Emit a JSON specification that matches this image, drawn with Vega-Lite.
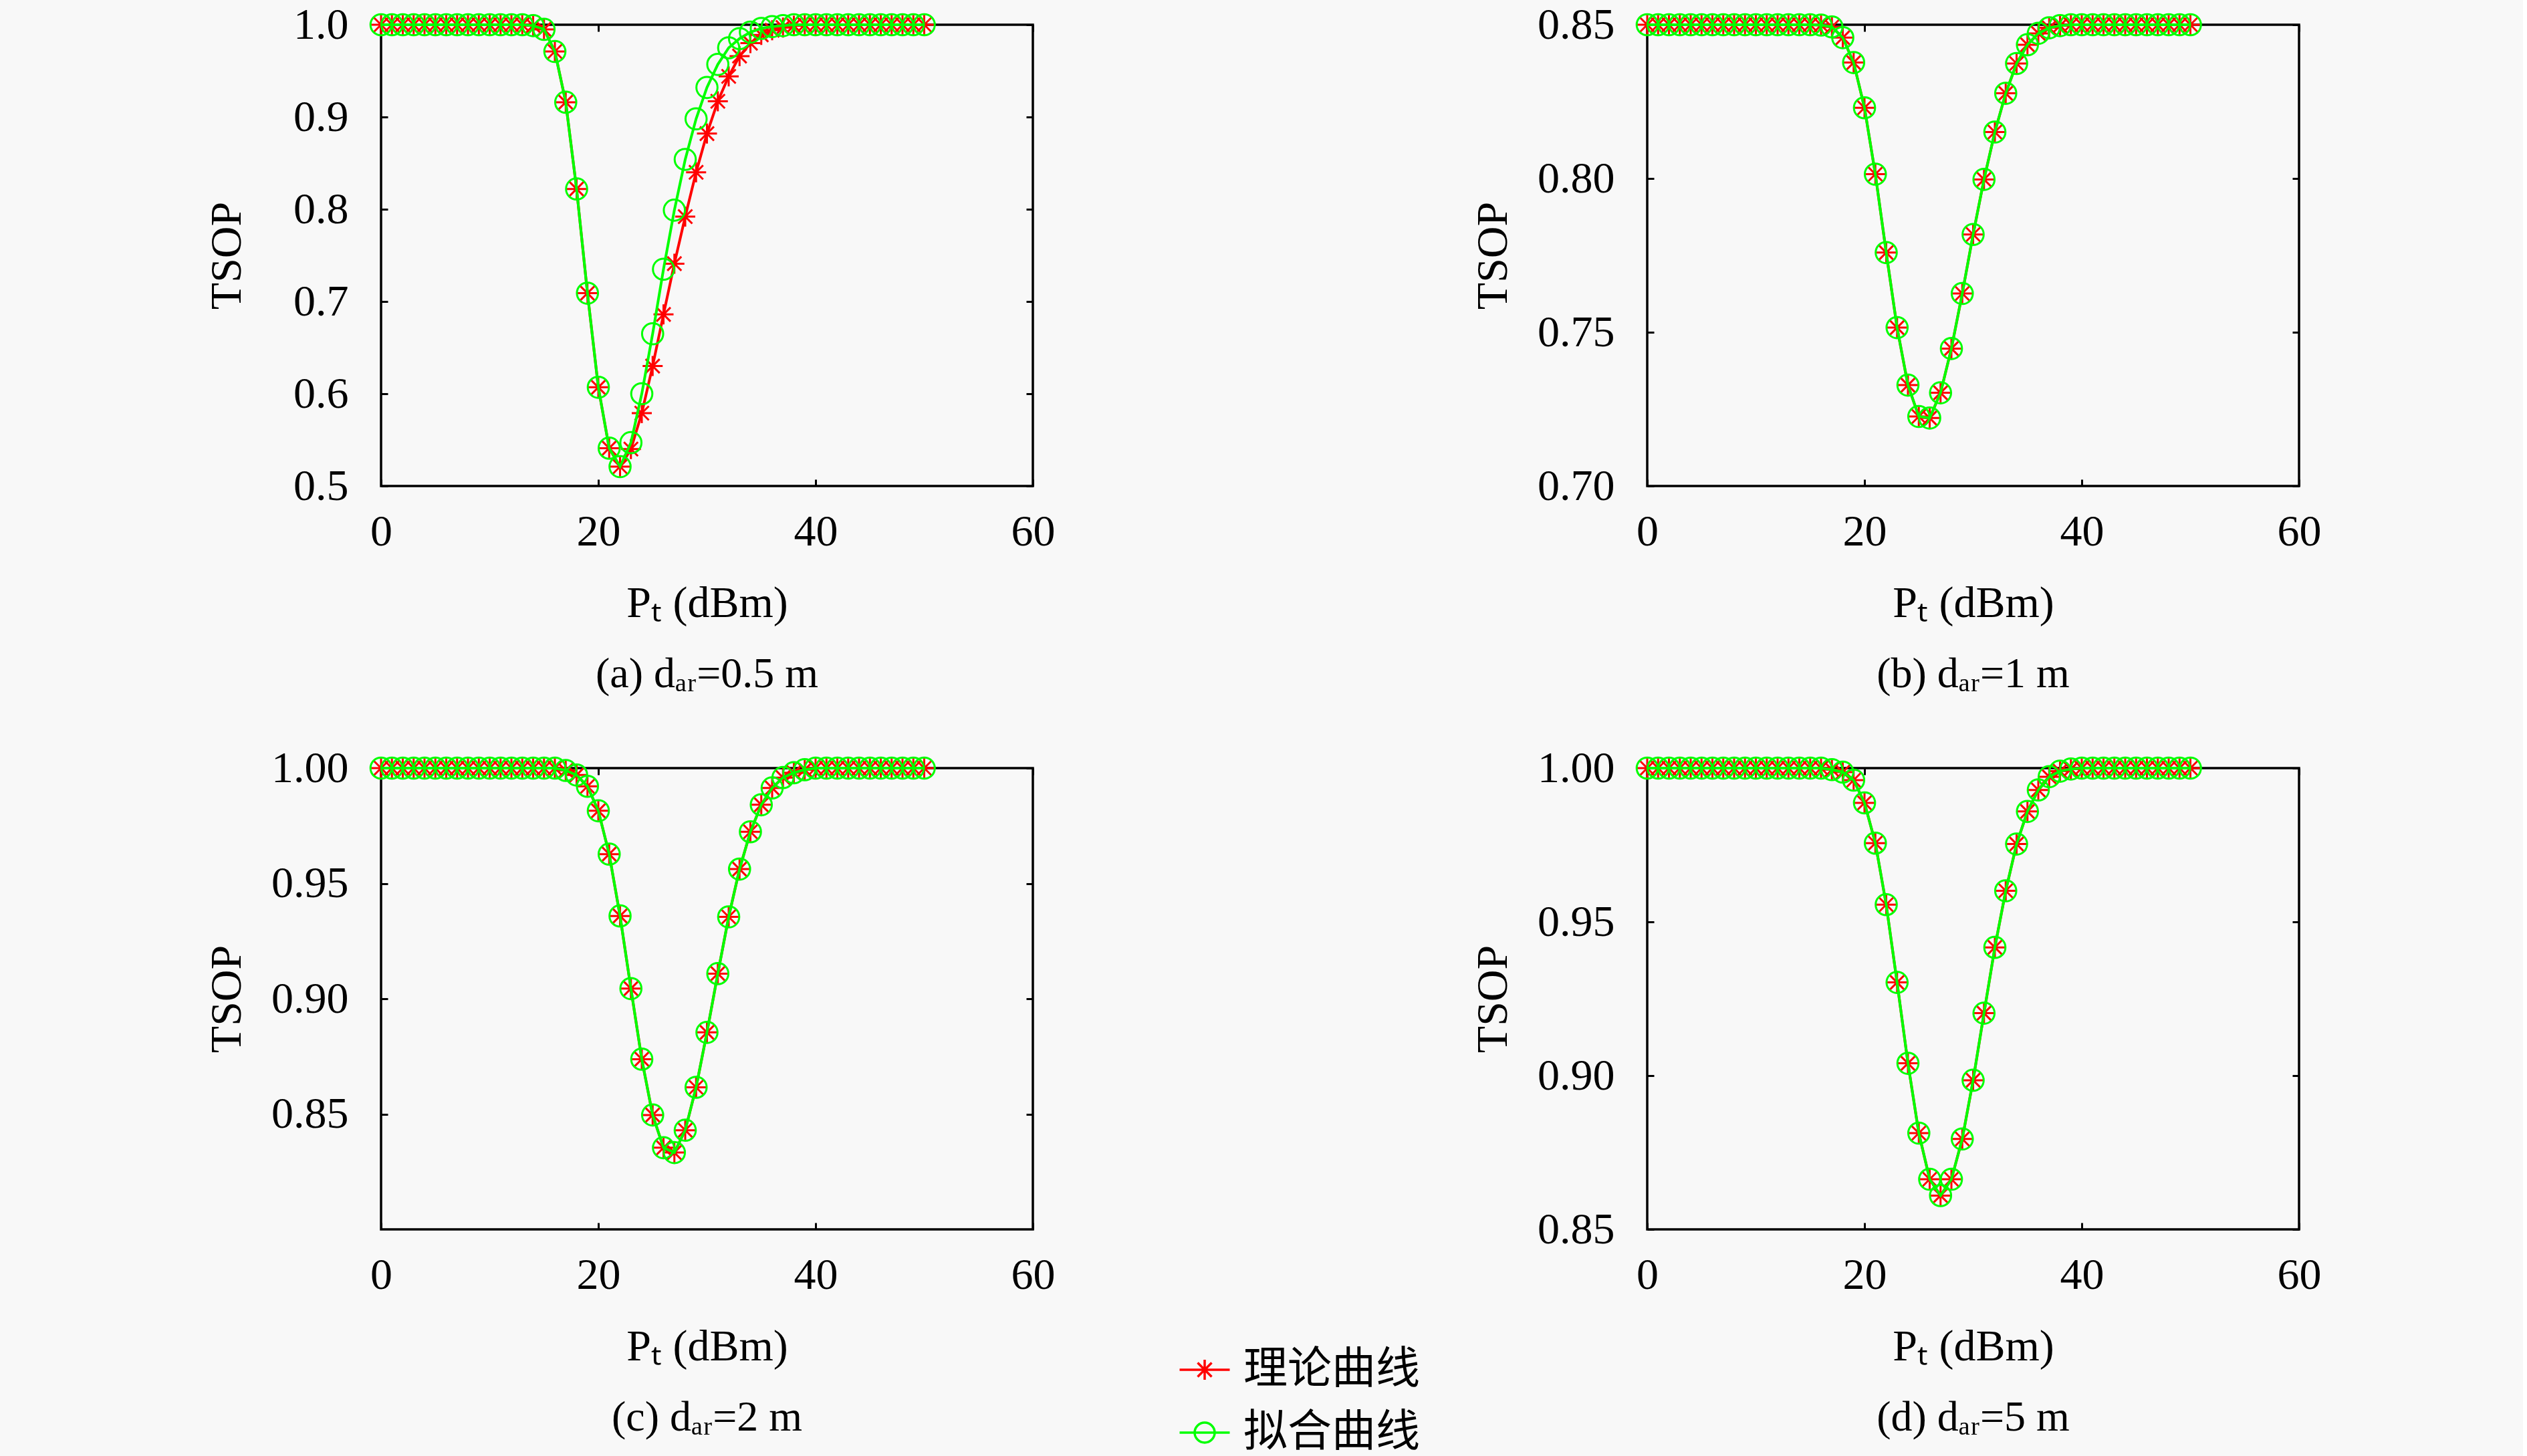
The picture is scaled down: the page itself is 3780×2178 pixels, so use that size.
{
  "$schema": "https://vega.github.io/schema/vega-lite/v6.json",
  "background": "#f8f8f8",
  "padding": {"left": 304, "top": 2, "right": 300, "bottom": 20},
  "config": {
    "view": {"stroke": "black", "strokeWidth": 3.5},
    "axis": {
      "domain": false, "grid": false, "labelFlush": false,
      "tickColor": "black", "tickSize": -10, "tickWidth": 3,
      "labelFont": "Liberation Serif", "labelFontSize": 66, "labelColor": "black",
      "titleFont": "Liberation Serif", "titleFontSize": 66, "titleFontWeight": "normal", "titleColor": "black"
    },
    "axisBottom": {"labelPadding": 46},
    "axisLeft": {"labelPadding": 59},
    "title": {"font": "Liberation Serif", "fontSize": 64, "fontWeight": "normal", "color": "black"}
  },
  "data": {"values": [
    {"p":"a","x":0,"t":1,"f":1},{"p":"a","x":1,"t":1,"f":1},{"p":"a","x":2,"t":1,"f":1},{"p":"a","x":3,"t":1,"f":1},
    {"p":"a","x":4,"t":1,"f":1},{"p":"a","x":5,"t":1,"f":1},{"p":"a","x":6,"t":1,"f":1},{"p":"a","x":7,"t":1,"f":1},
    {"p":"a","x":8,"t":1,"f":1},{"p":"a","x":9,"t":1,"f":1},{"p":"a","x":10,"t":1,"f":1},{"p":"a","x":11,"t":1,"f":1},
    {"p":"a","x":12,"t":1,"f":1},{"p":"a","x":13,"t":1,"f":1},{"p":"a","x":14,"t":0.999,"f":0.999},{"p":"a","x":15,"t":0.995,"f":0.995},
    {"p":"a","x":16,"t":0.971,"f":0.971},{"p":"a","x":17,"t":0.916,"f":0.916},{"p":"a","x":18,"t":0.822,"f":0.822},{"p":"a","x":19,"t":0.709,"f":0.709},
    {"p":"a","x":20,"t":0.607,"f":0.607},{"p":"a","x":21,"t":0.541,"f":0.541},{"p":"a","x":22,"t":0.521,"f":0.521},{"p":"a","x":23,"t":0.540,"f":0.547},
    {"p":"a","x":24,"t":0.579,"f":0.600},{"p":"a","x":25,"t":0.630,"f":0.665},{"p":"a","x":26,"t":0.686,"f":0.735},{"p":"a","x":27,"t":0.741,"f":0.799},
    {"p":"a","x":28,"t":0.792,"f":0.854},{"p":"a","x":29,"t":0.840,"f":0.898},{"p":"a","x":30,"t":0.882,"f":0.932},{"p":"a","x":31,"t":0.917,"f":0.957},
    {"p":"a","x":32,"t":0.944,"f":0.975},{"p":"a","x":33,"t":0.966,"f":0.985},{"p":"a","x":34,"t":0.980,"f":0.992},{"p":"a","x":35,"t":0.989,"f":0.996},
    {"p":"a","x":36,"t":0.994,"f":0.998},{"p":"a","x":37,"t":0.997,"f":0.999},{"p":"a","x":38,"t":0.999,"f":1},{"p":"a","x":39,"t":1,"f":1},
    {"p":"a","x":40,"t":1,"f":1},{"p":"a","x":41,"t":1,"f":1},{"p":"a","x":42,"t":1,"f":1},{"p":"a","x":43,"t":1,"f":1},
    {"p":"a","x":44,"t":1,"f":1},{"p":"a","x":45,"t":1,"f":1},{"p":"a","x":46,"t":1,"f":1},{"p":"a","x":47,"t":1,"f":1},
    {"p":"a","x":48,"t":1,"f":1},{"p":"a","x":49,"t":1,"f":1},{"p":"a","x":50,"t":1,"f":1},

    {"p":"b","x":0,"t":0.85,"f":0.85},{"p":"b","x":1,"t":0.85,"f":0.85},{"p":"b","x":2,"t":0.85,"f":0.85},{"p":"b","x":3,"t":0.85,"f":0.85},
    {"p":"b","x":4,"t":0.85,"f":0.85},{"p":"b","x":5,"t":0.85,"f":0.85},{"p":"b","x":6,"t":0.85,"f":0.85},{"p":"b","x":7,"t":0.85,"f":0.85},
    {"p":"b","x":8,"t":0.85,"f":0.85},{"p":"b","x":9,"t":0.85,"f":0.85},{"p":"b","x":10,"t":0.85,"f":0.85},{"p":"b","x":11,"t":0.85,"f":0.85},
    {"p":"b","x":12,"t":0.85,"f":0.85},{"p":"b","x":13,"t":0.85,"f":0.85},{"p":"b","x":14,"t":0.85,"f":0.85},{"p":"b","x":15,"t":0.85,"f":0.85},
    {"p":"b","x":16,"t":0.8499,"f":0.8499},{"p":"b","x":17,"t":0.8493,"f":0.8493},{"p":"b","x":18,"t":0.8458,"f":0.8458},{"p":"b","x":19,"t":0.8377,"f":0.8377},
    {"p":"b","x":20,"t":0.823,"f":0.823},{"p":"b","x":21,"t":0.8014,"f":0.8014},{"p":"b","x":22,"t":0.7759,"f":0.7759},{"p":"b","x":23,"t":0.7515,"f":0.7515},
    {"p":"b","x":24,"t":0.7328,"f":0.7328},{"p":"b","x":25,"t":0.7226,"f":0.7226},{"p":"b","x":26,"t":0.7221,"f":0.7221},{"p":"b","x":27,"t":0.7303,"f":0.7303},
    {"p":"b","x":28,"t":0.7447,"f":0.7447},{"p":"b","x":29,"t":0.7626,"f":0.7626},{"p":"b","x":30,"t":0.7818,"f":0.7818},{"p":"b","x":31,"t":0.7997,"f":0.7997},
    {"p":"b","x":32,"t":0.8151,"f":0.8151},{"p":"b","x":33,"t":0.8277,"f":0.8277},{"p":"b","x":34,"t":0.8374,"f":0.8374},{"p":"b","x":35,"t":0.8435,"f":0.8435},
    {"p":"b","x":36,"t":0.8472,"f":0.8472},{"p":"b","x":37,"t":0.849,"f":0.849},{"p":"b","x":38,"t":0.8497,"f":0.8497},{"p":"b","x":39,"t":0.85,"f":0.85},
    {"p":"b","x":40,"t":0.85,"f":0.85},{"p":"b","x":41,"t":0.85,"f":0.85},{"p":"b","x":42,"t":0.85,"f":0.85},{"p":"b","x":43,"t":0.85,"f":0.85},
    {"p":"b","x":44,"t":0.85,"f":0.85},{"p":"b","x":45,"t":0.85,"f":0.85},{"p":"b","x":46,"t":0.85,"f":0.85},{"p":"b","x":47,"t":0.85,"f":0.85},
    {"p":"b","x":48,"t":0.85,"f":0.85},{"p":"b","x":49,"t":0.85,"f":0.85},{"p":"b","x":50,"t":0.85,"f":0.85},

    {"p":"c","x":0,"t":1,"f":1},{"p":"c","x":1,"t":1,"f":1},{"p":"c","x":2,"t":1,"f":1},{"p":"c","x":3,"t":1,"f":1},
    {"p":"c","x":4,"t":1,"f":1},{"p":"c","x":5,"t":1,"f":1},{"p":"c","x":6,"t":1,"f":1},{"p":"c","x":7,"t":1,"f":1},
    {"p":"c","x":8,"t":1,"f":1},{"p":"c","x":9,"t":1,"f":1},{"p":"c","x":10,"t":1,"f":1},{"p":"c","x":11,"t":1,"f":1},
    {"p":"c","x":12,"t":1,"f":1},{"p":"c","x":13,"t":1,"f":1},{"p":"c","x":14,"t":1,"f":1},{"p":"c","x":15,"t":1,"f":1},
    {"p":"c","x":16,"t":1,"f":1},{"p":"c","x":17,"t":0.999,"f":0.999},{"p":"c","x":18,"t":0.997,"f":0.997},{"p":"c","x":19,"t":0.9921,"f":0.9921},
    {"p":"c","x":20,"t":0.9815,"f":0.9815},{"p":"c","x":21,"t":0.9627,"f":0.9627},{"p":"c","x":22,"t":0.9359,"f":0.9359},{"p":"c","x":23,"t":0.9044,"f":0.9044},
    {"p":"c","x":24,"t":0.8738,"f":0.8738},{"p":"c","x":25,"t":0.8496,"f":0.8496},{"p":"c","x":26,"t":0.8354,"f":0.8354},{"p":"c","x":27,"t":0.8333,"f":0.8333},
    {"p":"c","x":28,"t":0.843,"f":0.843},{"p":"c","x":29,"t":0.8616,"f":0.8616},{"p":"c","x":30,"t":0.8854,"f":0.8854},{"p":"c","x":31,"t":0.9109,"f":0.9109},
    {"p":"c","x":32,"t":0.9355,"f":0.9355},{"p":"c","x":33,"t":0.9562,"f":0.9562},{"p":"c","x":34,"t":0.9724,"f":0.9724},{"p":"c","x":35,"t":0.9841,"f":0.9841},
    {"p":"c","x":36,"t":0.9914,"f":0.9914},{"p":"c","x":37,"t":0.9959,"f":0.9959},{"p":"c","x":38,"t":0.998,"f":0.998},{"p":"c","x":39,"t":0.9993,"f":0.9993},
    {"p":"c","x":40,"t":1,"f":1},{"p":"c","x":41,"t":1,"f":1},{"p":"c","x":42,"t":1,"f":1},{"p":"c","x":43,"t":1,"f":1},
    {"p":"c","x":44,"t":1,"f":1},{"p":"c","x":45,"t":1,"f":1},{"p":"c","x":46,"t":1,"f":1},{"p":"c","x":47,"t":1,"f":1},
    {"p":"c","x":48,"t":1,"f":1},{"p":"c","x":49,"t":1,"f":1},{"p":"c","x":50,"t":1,"f":1},

    {"p":"d","x":0,"t":1,"f":1},{"p":"d","x":1,"t":1,"f":1},{"p":"d","x":2,"t":1,"f":1},{"p":"d","x":3,"t":1,"f":1},
    {"p":"d","x":4,"t":1,"f":1},{"p":"d","x":5,"t":1,"f":1},{"p":"d","x":6,"t":1,"f":1},{"p":"d","x":7,"t":1,"f":1},
    {"p":"d","x":8,"t":1,"f":1},{"p":"d","x":9,"t":1,"f":1},{"p":"d","x":10,"t":1,"f":1},{"p":"d","x":11,"t":1,"f":1},
    {"p":"d","x":12,"t":1,"f":1},{"p":"d","x":13,"t":1,"f":1},{"p":"d","x":14,"t":1,"f":1},{"p":"d","x":15,"t":1,"f":1},
    {"p":"d","x":16,"t":1,"f":1},{"p":"d","x":17,"t":0.9995,"f":0.9995},{"p":"d","x":18,"t":0.9987,"f":0.9987},{"p":"d","x":19,"t":0.9961,"f":0.9961},
    {"p":"d","x":20,"t":0.9887,"f":0.9887},{"p":"d","x":21,"t":0.9756,"f":0.9756},{"p":"d","x":22,"t":0.9556,"f":0.9556},{"p":"d","x":23,"t":0.9303,"f":0.9303},
    {"p":"d","x":24,"t":0.904,"f":0.904},{"p":"d","x":25,"t":0.8813,"f":0.8813},{"p":"d","x":26,"t":0.8663,"f":0.8663},{"p":"d","x":27,"t":0.861,"f":0.861},
    {"p":"d","x":28,"t":0.8663,"f":0.8663},{"p":"d","x":29,"t":0.8794,"f":0.8794},{"p":"d","x":30,"t":0.8985,"f":0.8985},{"p":"d","x":31,"t":0.9203,"f":0.9203},
    {"p":"d","x":32,"t":0.9417,"f":0.9417},{"p":"d","x":33,"t":0.9601,"f":0.9601},{"p":"d","x":34,"t":0.9753,"f":0.9753},{"p":"d","x":35,"t":0.9859,"f":0.9859},
    {"p":"d","x":36,"t":0.9929,"f":0.9929},{"p":"d","x":37,"t":0.9972,"f":0.9972},{"p":"d","x":38,"t":0.999,"f":0.999},{"p":"d","x":39,"t":0.9997,"f":0.9997},
    {"p":"d","x":40,"t":1,"f":1},{"p":"d","x":41,"t":1,"f":1},{"p":"d","x":42,"t":1,"f":1},{"p":"d","x":43,"t":1,"f":1},
    {"p":"d","x":44,"t":1,"f":1},{"p":"d","x":45,"t":1,"f":1},{"p":"d","x":46,"t":1,"f":1},{"p":"d","x":47,"t":1,"f":1},
    {"p":"d","x":48,"t":1,"f":1},{"p":"d","x":49,"t":1,"f":1},{"p":"d","x":50,"t":1,"f":1}
  ]},
  "columns": 2,
  "spacing": {"row": 71, "column": 618},
  "resolve": {"scale": {"x": "independent", "y": "independent", "color": "shared"}},
  "concat": [
    {
      "width": 975, "height": 690,
      "title": {"text": "(a) dₐᵣ=0.5 m", "orient": "bottom", "offset": 42, "anchor": "middle"},
      "transform": [{"filter": "datum.p == 'a'"}, {"fold": ["t", "f"], "as": ["s", "v"]}],
      "encoding": {
        "x": {"field": "x", "type": "quantitative", "scale": {"domain": [0, 60]}, "axis": null},
        "y": {"field": "v", "type": "quantitative", "scale": {"domain": [0.5, 1]}, "axis": null},
        "color": {"field": "s", "type": "nominal", "scale": {"domain": ["t", "f"], "range": ["#ff0000", "#00ff00"]},
          "legend": {"orient": "none", "legendX": 1199, "legendY": 1979, "title": null, "padding": 0,
            "labelExpr": "datum.value == 't' ? '理论曲线' : '拟合曲线'", "labelLimit": 0,
            "labelFont": "Noto Sans CJK SC", "labelFontSize": 66, "labelColor": "black", "labelOffset": 25,
            "symbolSize": 900, "symbolStrokeWidth": 3.5, "symbolFillColor": "transparent", "rowPadding": 28,
            "encode": {"symbols": {"update": {"shape": {"signal": "datum.value == 't' ? 'M-2.5,0L2.5,0M0,-1L0,1M-0.7,-0.7L0.7,0.7M-0.7,0.7L0.7,-0.7' : 'M-2.5,0L-1,0M1,0L2.5,0M-1,0L1,0M1,0A1,1 0 1,1 -1,0A1,1 0 1,1 1,0'"}, "fill": {"value": "transparent"}}}}}}
      },
      "resolve": {"axis": {"x": "independent", "y": "independent"}},
      "layer": [
        {"transform": [{"filter": "datum.s == 't'"}], "mark": {"type": "line", "strokeWidth": 4},
          "encoding": {
            "x": {"field": "x", "type": "quantitative", "axis": {"values": [0, 20, 40, 60], "title": "Pₜ (dBm)", "titleX": 487.5, "titleY": 195, "titleBaseline": "alphabetic"}},
            "y": {"field": "v", "type": "quantitative", "axis": {"values": [0.5, 0.6, 0.7, 0.8, 0.9, 1.0], "format": ".1f", "title": "TSOP", "titleX": -211, "titleY": 345, "titleBaseline": "alphabetic"}}
          }},
        {"transform": [{"filter": "datum.s == 't'"}], "mark": {"type": "point", "shape": "M-1,0L1,0M0,-1L0,1M-0.7,-0.7L0.7,0.7M-0.7,0.7L0.7,-0.7", "size": 900, "strokeWidth": 3, "filled": false, "opacity": 1},
          "encoding": {
            "x": {"field": "x", "type": "quantitative", "axis": {"orient": "top", "values": [0, 20, 40, 60], "labels": false, "title": null}},
            "y": {"field": "v", "type": "quantitative", "axis": {"orient": "right", "values": [0.5, 0.6, 0.7, 0.8, 0.9, 1.0], "labels": false, "title": null}}
          }},
        {"transform": [{"filter": "datum.s == 'f'"}], "mark": {"type": "line", "strokeWidth": 4}},
        {"transform": [{"filter": "datum.s == 'f'"}], "mark": {"type": "point", "shape": "circle", "size": 1000, "strokeWidth": 3, "filled": false, "opacity": 1}}
      ]
    },
    {
      "width": 975, "height": 690,
      "title": {"text": "(b) dₐᵣ=1 m", "orient": "bottom", "offset": 42, "anchor": "middle"},
      "transform": [{"filter": "datum.p == 'b'"}, {"fold": ["t", "f"], "as": ["s", "v"]}],
      "encoding": {
        "x": {"field": "x", "type": "quantitative", "scale": {"domain": [0, 60]}, "axis": null},
        "y": {"field": "v", "type": "quantitative", "scale": {"domain": [0.7, 0.85]}, "axis": null},
        "color": {"field": "s", "type": "nominal", "scale": {"domain": ["t", "f"], "range": ["#ff0000", "#00ff00"]},
          "legend": {"orient": "none", "legendX": 1199, "legendY": 1979, "title": null, "padding": 0,
            "labelExpr": "datum.value == 't' ? '理论曲线' : '拟合曲线'", "labelLimit": 0,
            "labelFont": "Noto Sans CJK SC", "labelFontSize": 66, "labelColor": "black", "labelOffset": 25,
            "symbolSize": 900, "symbolStrokeWidth": 3.5, "symbolFillColor": "transparent", "rowPadding": 28,
            "encode": {"symbols": {"update": {"shape": {"signal": "datum.value == 't' ? 'M-2.5,0L2.5,0M0,-1L0,1M-0.7,-0.7L0.7,0.7M-0.7,0.7L0.7,-0.7' : 'M-2.5,0L-1,0M1,0L2.5,0M-1,0L1,0M1,0A1,1 0 1,1 -1,0A1,1 0 1,1 1,0'"}, "fill": {"value": "transparent"}}}}}}
      },
      "resolve": {"axis": {"x": "independent", "y": "independent"}},
      "layer": [
        {"transform": [{"filter": "datum.s == 't'"}], "mark": {"type": "line", "strokeWidth": 4},
          "encoding": {
            "x": {"field": "x", "type": "quantitative", "axis": {"values": [0, 20, 40, 60], "title": "Pₜ (dBm)", "titleX": 487.5, "titleY": 195, "titleBaseline": "alphabetic"}},
            "y": {"field": "v", "type": "quantitative", "axis": {"values": [0.7, 0.75, 0.8, 0.85], "format": ".2f", "title": "TSOP", "titleX": -211, "titleY": 345, "titleBaseline": "alphabetic"}}
          }},
        {"transform": [{"filter": "datum.s == 't'"}], "mark": {"type": "point", "shape": "M-1,0L1,0M0,-1L0,1M-0.7,-0.7L0.7,0.7M-0.7,0.7L0.7,-0.7", "size": 900, "strokeWidth": 3, "filled": false, "opacity": 1},
          "encoding": {
            "x": {"field": "x", "type": "quantitative", "axis": {"orient": "top", "values": [0, 20, 40, 60], "labels": false, "title": null}},
            "y": {"field": "v", "type": "quantitative", "axis": {"orient": "right", "values": [0.7, 0.75, 0.8, 0.85], "labels": false, "title": null}}
          }},
        {"transform": [{"filter": "datum.s == 'f'"}], "mark": {"type": "line", "strokeWidth": 4}},
        {"transform": [{"filter": "datum.s == 'f'"}], "mark": {"type": "point", "shape": "circle", "size": 1000, "strokeWidth": 3, "filled": false, "opacity": 1}}
      ]
    },
    {
      "width": 975, "height": 690,
      "title": {"text": "(c) dₐᵣ=2 m", "orient": "bottom", "offset": 42, "anchor": "middle"},
      "transform": [{"filter": "datum.p == 'c'"}, {"fold": ["t", "f"], "as": ["s", "v"]}],
      "encoding": {
        "x": {"field": "x", "type": "quantitative", "scale": {"domain": [0, 60]}, "axis": null},
        "y": {"field": "v", "type": "quantitative", "scale": {"domain": [0.8, 1]}, "axis": null},
        "color": {"field": "s", "type": "nominal", "scale": {"domain": ["t", "f"], "range": ["#ff0000", "#00ff00"]},
          "legend": {"orient": "none", "legendX": 1199, "legendY": 1979, "title": null, "padding": 0,
            "labelExpr": "datum.value == 't' ? '理论曲线' : '拟合曲线'", "labelLimit": 0,
            "labelFont": "Noto Sans CJK SC", "labelFontSize": 66, "labelColor": "black", "labelOffset": 25,
            "symbolSize": 900, "symbolStrokeWidth": 3.5, "symbolFillColor": "transparent", "rowPadding": 28,
            "encode": {"symbols": {"update": {"shape": {"signal": "datum.value == 't' ? 'M-2.5,0L2.5,0M0,-1L0,1M-0.7,-0.7L0.7,0.7M-0.7,0.7L0.7,-0.7' : 'M-2.5,0L-1,0M1,0L2.5,0M-1,0L1,0M1,0A1,1 0 1,1 -1,0A1,1 0 1,1 1,0'"}, "fill": {"value": "transparent"}}}}}}
      },
      "resolve": {"axis": {"x": "independent", "y": "independent"}},
      "layer": [
        {"transform": [{"filter": "datum.s == 't'"}], "mark": {"type": "line", "strokeWidth": 4},
          "encoding": {
            "x": {"field": "x", "type": "quantitative", "axis": {"values": [0, 20, 40, 60], "title": "Pₜ (dBm)", "titleX": 487.5, "titleY": 195, "titleBaseline": "alphabetic"}},
            "y": {"field": "v", "type": "quantitative", "axis": {"values": [0.85, 0.9, 0.95, 1.0], "format": ".2f", "title": "TSOP", "titleX": -211, "titleY": 345, "titleBaseline": "alphabetic"}}
          }},
        {"transform": [{"filter": "datum.s == 't'"}], "mark": {"type": "point", "shape": "M-1,0L1,0M0,-1L0,1M-0.7,-0.7L0.7,0.7M-0.7,0.7L0.7,-0.7", "size": 900, "strokeWidth": 3, "filled": false, "opacity": 1},
          "encoding": {
            "x": {"field": "x", "type": "quantitative", "axis": {"orient": "top", "values": [0, 20, 40, 60], "labels": false, "title": null}},
            "y": {"field": "v", "type": "quantitative", "axis": {"orient": "right", "values": [0.85, 0.9, 0.95, 1.0], "labels": false, "title": null}}
          }},
        {"transform": [{"filter": "datum.s == 'f'"}], "mark": {"type": "line", "strokeWidth": 4}},
        {"transform": [{"filter": "datum.s == 'f'"}], "mark": {"type": "point", "shape": "circle", "size": 1000, "strokeWidth": 3, "filled": false, "opacity": 1}}
      ]
    },
    {
      "width": 975, "height": 690,
      "title": {"text": "(d) dₐᵣ=5 m", "orient": "bottom", "offset": 42, "anchor": "middle"},
      "transform": [{"filter": "datum.p == 'd'"}, {"fold": ["t", "f"], "as": ["s", "v"]}],
      "encoding": {
        "x": {"field": "x", "type": "quantitative", "scale": {"domain": [0, 60]}, "axis": null},
        "y": {"field": "v", "type": "quantitative", "scale": {"domain": [0.85, 1]}, "axis": null},
        "color": {"field": "s", "type": "nominal", "scale": {"domain": ["t", "f"], "range": ["#ff0000", "#00ff00"]},
          "legend": {"orient": "none", "legendX": 1199, "legendY": 1979, "title": null, "padding": 0,
            "labelExpr": "datum.value == 't' ? '理论曲线' : '拟合曲线'", "labelLimit": 0,
            "labelFont": "Noto Sans CJK SC", "labelFontSize": 66, "labelColor": "black", "labelOffset": 25,
            "symbolSize": 900, "symbolStrokeWidth": 3.5, "symbolFillColor": "transparent", "rowPadding": 28,
            "encode": {"symbols": {"update": {"shape": {"signal": "datum.value == 't' ? 'M-2.5,0L2.5,0M0,-1L0,1M-0.7,-0.7L0.7,0.7M-0.7,0.7L0.7,-0.7' : 'M-2.5,0L-1,0M1,0L2.5,0M-1,0L1,0M1,0A1,1 0 1,1 -1,0A1,1 0 1,1 1,0'"}, "fill": {"value": "transparent"}}}}}}
      },
      "resolve": {"axis": {"x": "independent", "y": "independent"}},
      "layer": [
        {"transform": [{"filter": "datum.s == 't'"}], "mark": {"type": "line", "strokeWidth": 4},
          "encoding": {
            "x": {"field": "x", "type": "quantitative", "axis": {"values": [0, 20, 40, 60], "title": "Pₜ (dBm)", "titleX": 487.5, "titleY": 195, "titleBaseline": "alphabetic"}},
            "y": {"field": "v", "type": "quantitative", "axis": {"values": [0.85, 0.9, 0.95, 1.0], "format": ".2f", "title": "TSOP", "titleX": -211, "titleY": 345, "titleBaseline": "alphabetic"}}
          }},
        {"transform": [{"filter": "datum.s == 't'"}], "mark": {"type": "point", "shape": "M-1,0L1,0M0,-1L0,1M-0.7,-0.7L0.7,0.7M-0.7,0.7L0.7,-0.7", "size": 900, "strokeWidth": 3, "filled": false, "opacity": 1},
          "encoding": {
            "x": {"field": "x", "type": "quantitative", "axis": {"orient": "top", "values": [0, 20, 40, 60], "labels": false, "title": null}},
            "y": {"field": "v", "type": "quantitative", "axis": {"orient": "right", "values": [0.85, 0.9, 0.95, 1.0], "labels": false, "title": null}}
          }},
        {"transform": [{"filter": "datum.s == 'f'"}], "mark": {"type": "line", "strokeWidth": 4}},
        {"transform": [{"filter": "datum.s == 'f'"}], "mark": {"type": "point", "shape": "circle", "size": 1000, "strokeWidth": 3, "filled": false, "opacity": 1}}
      ]
    }
  ]
}
